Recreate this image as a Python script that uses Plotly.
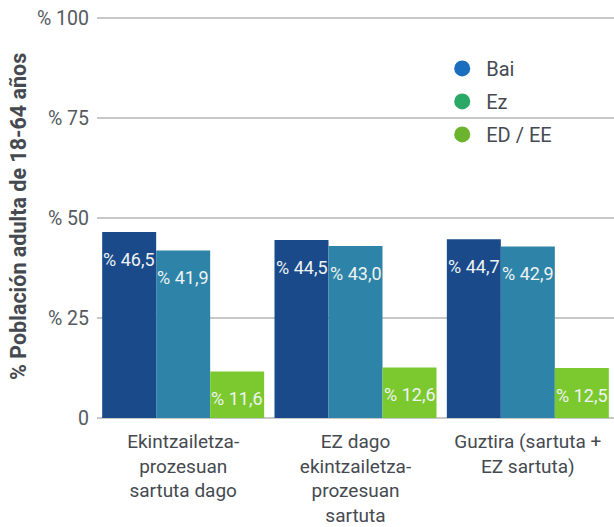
import plotly.graph_objects as go

categories = [
    "Ekintzailetza-<br>prozesuan<br>sartuta dago",
    "EZ dago<br>ekintzailetza-<br>prozesuan<br>sartuta",
    "Guztira (sartuta +<br>EZ sartuta)",
]
series_names = ["Bai", "Ez", "ED / EE"]
bai = [46.5, 44.5, 44.7]
ez = [41.9, 43.0, 42.9]
ed_ee = [11.6, 12.6, 12.5]
values = [bai, ez, ed_ee]
bar_colors = ["#1a4a8a", "#2e83a8", "#7bc92f"]
legend_colors = ["#1a6ebe", "#2aa866", "#6cb42e"]
tick_vals = [0, 25, 50, 75, 100]
tick_text = ["0", "% 25", "% 50", "% 75", "% 100"]

FONT = "Roboto"
TXT = "#454a50"
bargap = 0.06

fig = go.Figure()
for name, vals, col in zip(series_names, values, bar_colors):
    fig.add_trace(go.Bar(
        x=categories, y=vals, name=name, marker=dict(color=col, line=dict(width=0)),
        showlegend=False, hoverinfo="skip",
    ))
for k, (name, col) in enumerate(zip(series_names, legend_colors)):
    fig.add_trace(go.Scatter(
        x=[None], y=[None], mode="markers", name=name, legendgroup=name,
        marker=dict(color=col, size=16, symbol="circle"),
    ))

w = (1 - bargap) / 3
annotations = []
for j, vals in enumerate(values):
    for i, v in enumerate(vals):
        annotations.append(dict(
            x=i + (j - 1) * w, y=v, xref="x", yref="y",
            text="% " + f"{v:.1f}".replace(".", ","),
            showarrow=False, yanchor="middle", yshift=-27,
            font=dict(family=FONT, size=18, color="#eef3f3"),
        ))
annotations.append(dict(
    x=-79 / 517, y=0.5, xref="paper", yref="paper", xanchor="center", yanchor="middle",
    text="<b>% Población adulta de 18-64 años</b>", textangle=-90, showarrow=False,
    font=dict(family=FONT, size=21.5, color=TXT),
))

fig.update_layout(
    width=614, height=527,
    margin=dict(l=97, r=0, t=16, b=109, autoexpand=False),
    barmode="group", bargap=bargap, bargroupgap=0,
    plot_bgcolor="white", paper_bgcolor="white",
    font=dict(family=FONT, size=18, color=TXT),
    annotations=annotations,
    legend=dict(
        x=0.660, y=0.918, xanchor="left", yanchor="top",
        font=dict(family=FONT, size=20, color=TXT),
        traceorder="grouped", tracegroupgap=4,
        bgcolor="rgba(0,0,0,0)", itemwidth=38,
    ),
    xaxis=dict(
        showgrid=False, showline=False, ticks="", automargin=False,
        tickfont=dict(family=FONT, size=19, color=TXT),
        ticklabelstandoff=10,
        fixedrange=True,
    ),
    yaxis=dict(
        range=[0, 100.5], tickvals=tick_vals, ticktext=tick_text, automargin=False,
        showgrid=True, gridcolor="#c8c8c8", gridwidth=2,
        zeroline=True, zerolinecolor="#c8c8c8", zerolinewidth=2,
        showline=False, ticks="", ticklabelstandoff=7,
        tickfont=dict(family=FONT, size=19.5, color="#555a5f"),
        fixedrange=True,
    ),
)

fig.write_html("out.html", config={"displayModeBar": False},
               post_script="document.body.style.margin='0px';")
